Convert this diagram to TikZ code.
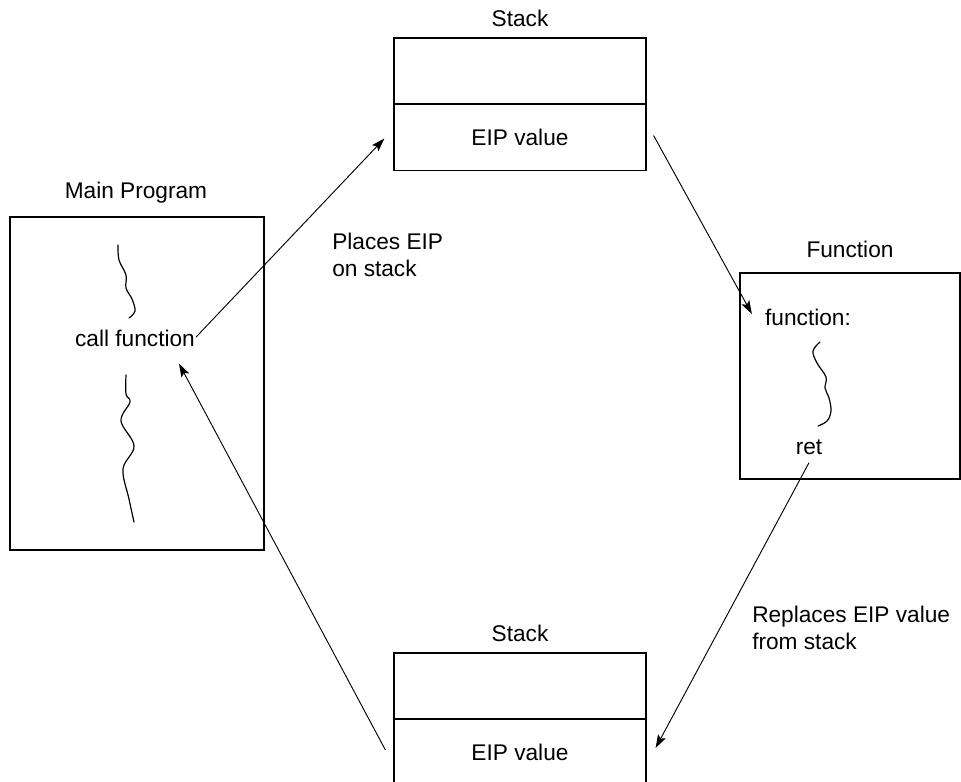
\documentclass[tikz,border=0pt]{standalone}
\usepackage{fontspec}
\setmainfont{Liberation Sans}
\usetikzlibrary{arrows.meta,calc}
\begin{document}
\begin{tikzpicture}[x=0.75pt,y=-0.75pt,
  every node/.style={font=\fontsize{17}{19.8}\selectfont, inner sep=0pt},
  cell/.style={draw, line width=0.9pt, minimum width=189pt, minimum height=49.5pt},
  bigbox/.style={draw, line width=0.9pt},
  lbl/.style={},
  arr/.style={line width=0.7pt, -{Stealth[length=10pt,width=6.5pt,inset=2pt]}},
  squig/.style={line width=0.9pt, line cap=round}]
\useasboundingbox (0,0) rectangle (961,782);

% top stack
\node[lbl] (stackTopLbl) at (520,18) {Stack};
\node[cell] (topA) at (520,71) {};
\node[cell] (topB) at (520,137.5) {EIP value};

% main program
\node[lbl] (mainLbl) at (136,193) {Main Program};
\node[bigbox, minimum width=190.5pt, minimum height=249.75pt] (main) at (137,383.5) {};
\node (call) at (135,338) {call function};

% function
\node[lbl] (fnLbl) at (850,249) {Function};
\node[bigbox, minimum width=165pt, minimum height=154.5pt] (fnbox) at (850,376) {};
\node (fn) at (808,317) {function:};
\node (ret) at (809,447) {ret};

% bottom stack
\node[lbl] (stackBotLbl) at (520,633) {Stack};
\node[cell] (botA) at (520,686) {};
\node[cell] (botB) at (520,752) {EIP value};

% labels
\node[align=left, anchor=west] (places) at (332,255) {Places EIP\\on stack};
\node[align=left, anchor=west] (replaces) at (752,628) {Replaces EIP value\\from stack};

% squiggles
\draw[squig] plot[smooth, tension=0.6] coordinates {(118,245) (119,260) (126,275) (126,288) (132,299) (135,311) (129,318)};
\draw[squig] plot[smooth, tension=0.6] coordinates {(126,375) (126,394) (130,402) (121,421) (134,446) (123,469) (129,499) (134,522)};
\draw[squig] plot[smooth, tension=0.6] coordinates {(820,342) (813,351) (817,363) (826,377) (825,388) (829,398) (831,411) (827,421) (818,426)};

% connectors
\draw[arr] ($(call.east)+(1,-1)$) -- ($(topB.west)+(-9,1)$);
\draw[arr] ($(topB.east)+(7,-2)$) -- ($(fn.west)+(-13,-3)$);
\draw[arr] ($(ret.south)+(0,8)$) -- ($(botB.east)+(9,-4)$);
\draw[arr] ($(botB.west)+(-8,-2)$) -- ($(call.south)+(44,17)$);
\end{tikzpicture}
\end{document}
